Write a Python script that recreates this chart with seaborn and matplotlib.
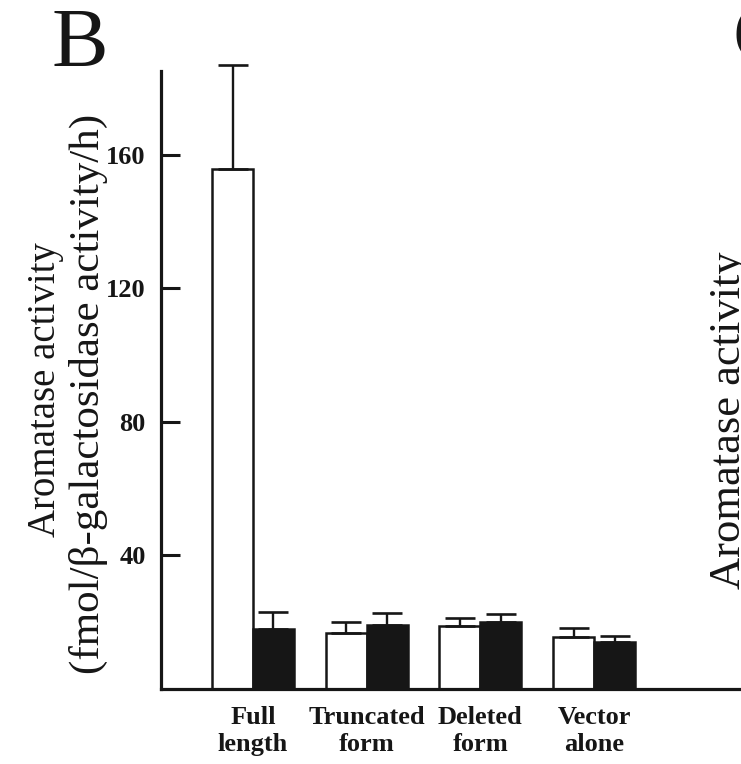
import numpy as np
import pandas as pd
import matplotlib
matplotlib.use('Agg')
import matplotlib.pyplot as plt
import seaborn as sns

# values
constructs = ['Full\nlength', 'Truncated\nform', 'Deleted\nform', 'Vector\nalone']
conditions = ['untreated', 'treated']
activity_open = [155.8, 16.9, 19.0, 15.7]
activity_filled = [17.9, 19.1, 20.0, 14.0]
sem_open = [31.0, 3.3, 2.2, 2.5]
sem_filled = [5.1, 3.6, 2.6, 2.0]
yticks = [40, 80, 120, 160]

df = pd.DataFrame({
    'construct': constructs * 2,
    'condition': [conditions[0]] * 4 + [conditions[1]] * 4,
    'activity': activity_open + activity_filled,
})

sns.set_style('ticks')
plt.rcParams['font.family'] = ['Liberation Serif', 'DejaVu Serif']

ink = '#161616'

fig = plt.figure(figsize=(7.41, 7.64), dpi=100)
ax = fig.add_axes([161 / 741, 75 / 764, 580 / 741, 618 / 764])

sns.barplot(data=df, x='construct', y='activity', hue='condition',
            order=constructs, hue_order=conditions,
            palette=['white', ink], edgecolor=ink, linewidth=1.8,
            width=0.72, errorbar=None, legend=False, ax=ax)

# upper error bars only
for cont, errs in zip(ax.containers, [sem_open, sem_filled]):
    xs = [b.get_x() + b.get_width() / 2 for b in cont]
    ys = [b.get_height() for b in cont]
    eb = ax.errorbar(xs, ys, yerr=[np.zeros(len(errs)), errs], fmt='none',
                     ecolor=ink, elinewidth=1.7, capsize=10.5, capthick=1.9, zorder=3)
    for art in eb.lines[1] + eb.lines[2]:
        art.set_clip_on(False)

ax.set_xlim(-0.809, 4.292)
ax.set_ylim(0, 185)
ax.set_yticks(yticks)
ax.set_yticklabels([str(v) for v in yticks], fontsize=19, fontweight='bold', color=ink)
ax.set_xticks(range(len(constructs)))
ax.set_xticklabels(constructs, fontsize=19, fontweight='bold', color=ink, linespacing=1.25)
ax.tick_params(axis='y', direction='in', length=14, width=2.2, color=ink, pad=11)
ax.tick_params(axis='x', length=0, pad=12)
ax.set_xlabel('')
ax.set_ylabel('')

sns.despine(ax=ax, top=True, right=True)
for side in ['left', 'bottom']:
    ax.spines[side].set_linewidth(2.3)
    ax.spines[side].set_color(ink)
    ax.spines[side].set_clip_on(False)

# y axis title, two lines
fig.text(46 / 741, 1 - 390 / 764, 'Aromatase activity', rotation=90,
         ha='center', va='center', fontsize=28, color=ink)
fig.text(88 / 741, 1 - 394 / 764, '(fmol/\u03b2-galactosidase activity/h)', rotation=90,
         ha='center', va='center', fontsize=31, color=ink)

# panel letters
fig.text(52 / 741, 1 - 67 / 764, 'B', fontsize=61, color=ink, ha='left', va='baseline')
fig.text(733 / 741, 1 - 62 / 764, 'C', fontsize=61, color=ink, ha='left', va='baseline')

# neighbouring panel's axis title, cut by the edge
fig.text(729 / 741, 1 - 420 / 764, 'Aromatase activity', rotation=90,
         ha='center', va='center', fontsize=32, color=ink)

fig.savefig('out.png', dpi=100)
